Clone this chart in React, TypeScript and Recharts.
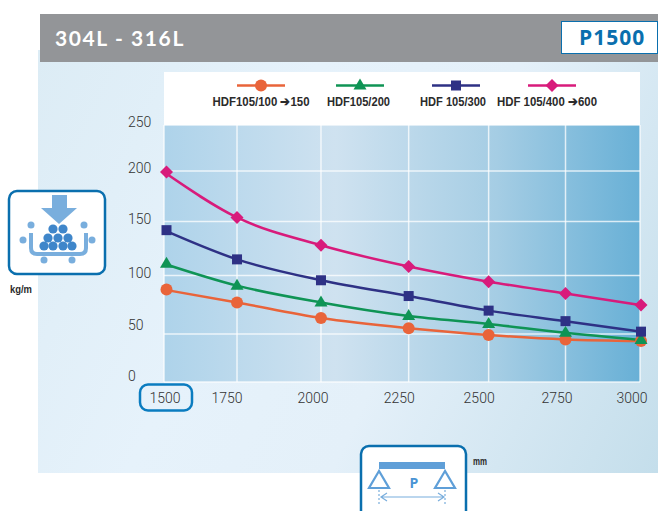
import React from 'react';
import { LineChart, Line, XAxis, YAxis, CartesianGrid, Legend } from 'recharts';

const spans = [1500, 1750, 2000, 2250, 2500, 2750, 3000];
const loadTicks = [0, 50, 100, 150, 200, 250];
const hdf100 = [88, 77, 63.7, 55, 49, 44.3, 42.7];
const hdf200 = [111, 91.4, 77, 65.4, 58.6, 51, 43.8];
const hdf300 = [142, 115, 96, 82.5, 70, 61, 52];
const hdf400 = [199, 154, 128, 108.4, 94.8, 84.7, 74.8];
const seriesNames = ['HDF105/100 ➔150', 'HDF105/200', 'HDF 105/300', 'HDF 105/400 ➔600'];

const rows = spans.map((span, i) => ({ span, a: hdf100[i], b: hdf200[i], c: hdf300[i], d: hdf400[i] }));

// The printed axes are not evenly spaced, so scales are piecewise linear.
function piecewise(stops: number[], fractions: number[], dom?: number[], rng?: number[]): any {
  let domain = dom || [stops[0], stops[stops.length - 1]];
  let range = rng || [0, 1];
  const s: any = (v: number) => {
    let i = 0;
    while (i < stops.length - 2 && v > stops[i + 1]) i++;
    const t = (v - stops[i]) / (stops[i + 1] - stops[i]);
    const f = fractions[i] + t * (fractions[i + 1] - fractions[i]);
    return range[0] + f * (range[1] - range[0]);
  };
  s.domain = (d?: number[]) => { if (d) { domain = d; return s; } return domain; };
  s.range = (r?: number[]) => { if (r) { range = r; return s; } return range; };
  s.copy = () => piecewise(stops, fractions, domain, range);
  s.ticks = () => stops;
  return s;
}
const xScale = piecewise(spans, [0, 0.1534, 0.3298, 0.514, 0.682, 0.8435, 1]);
const yScale = piecewise(loadTicks, [0, 0.1868, 0.414, 0.6245, 0.821, 1]);

const TICK_FONT = 'Roboto, sans-serif';
const NARROW = '"Liberation Sans", sans-serif';
const xLabelShift = [1, -10, -8, -9.5, -9.5, -8.5, -8];
const yLabelShift = [-6, -9, -2.5, -2.5, -3, -3];
const markerShift = [2.5, 0, 0, 0, 0, 0, 1];

const XTick = ({ x, y, payload, index }: any) => (
  <text x={x + xLabelShift[index]} y={y + 13} textAnchor="middle" fontFamily={TICK_FONT} fontWeight={300} fontSize={14} fill="#333">{payload.value}</text>
);
const YTick = ({ y, payload, index }: any) => (
  <text x={128} y={y + yLabelShift[index] + 5} textAnchor="start" fontFamily={TICK_FONT} fontWeight={300} fontSize={14} fill="#333">{payload.value}</text>
);

const ORANGE = '#e9643a', GREEN = '#0f9455', NAVY = '#2e3185', PINK = '#d81b7b';

const marker = (kind: string, c: string, cx: number, cy: number) => {
  if (kind === 'circle') return <circle cx={cx} cy={cy} r={6} fill={c} />;
  if (kind === 'square') return <rect x={cx - 5} y={cy - 5} width={10} height={10} fill={c} />;
  if (kind === 'triangle') return <path d={`M${cx} ${cy - 7}L${cx + 6.5} ${cy + 4}L${cx - 6.5} ${cy + 4}Z`} fill={c} />;
  return <path d={`M${cx} ${cy - 6.5}L${cx + 6.5} ${cy}L${cx} ${cy + 6.5}L${cx - 6.5} ${cy}Z`} fill={c} />;
};
const dot = (kind: string, c: string) => (p: any) => <g key={p.index}>{marker(kind, c, p.cx + markerShift[p.index], p.cy)}</g>;

const legendKinds = [
  { kind: 'circle', c: ORANGE, sx: 261, tx: 261, w: 97 },
  { kind: 'triangle', c: GREEN, sx: 360, tx: 358.5, w: 63 },
  { kind: 'square', c: NAVY, sx: 456, tx: 453, w: 66 },
  { kind: 'diamond', c: PINK, sx: 552, tx: 547, w: 100 },
];

const LegendBox = () => (
  <svg width={658} height={125} style={{ display: 'block' }}>
    <rect x={164} y={72} width={476} height={53} fill="#fff" />
    {legendKinds.map((l, i) => (
      <g key={i}>
        <line x1={l.sx - 24} x2={l.sx + 24} y1={85.5} y2={85.5} stroke={l.c} strokeWidth={2.5} />
        {marker(l.kind, l.c, l.sx, 85.5)}
        <text x={l.tx} y={106} textAnchor="middle" textLength={l.w} lengthAdjust="spacingAndGlyphs" fontFamily={NARROW} fontWeight={700} fontSize={12.5} fill="#2b2b2b">{seriesNames[i]}</text>
      </g>
    ))}
  </svg>
);

const LoadIcon = () => (
  <g>
    <rect x={9} y={191} width={96} height={83} rx={8} fill="#fff" stroke="#0a6fae" strokeWidth={2.5} />
    <path d="M52 195H67V208H77L59 224L41 208H52Z" fill="#79aedd" />
    <path d="M31 233V248Q31 254 37 254H80Q86 254 86 248V233" fill="none" stroke="#79aedd" strokeWidth={4} />
    {[[53, 229], [63, 229], [48, 238], [58, 238], [68, 238], [44, 246], [53, 246], [63, 246], [72, 246]].map(([x, y], i) => (
      <circle key={i} cx={x} cy={y} r={4.6} fill="#3f86ca" />
    ))}
    {[[31, 225], [84, 225], [23, 240], [92, 240], [44, 260], [72, 260]].map(([x, y], i) => (
      <circle key={i} cx={x} cy={y} r={3.5} fill="#79aedd" />
    ))}
  </g>
);

const SpanIcon = () => (
  <g>
    <rect x={361} y={446} width={105} height={80} rx={8} fill="#fff" stroke="#0a6fae" strokeWidth={2.5} />
    <rect x={379} y={462} width={66} height={7} fill="#5f9fd8" />
    <path d="M379 471L369 488H389Z" fill="none" stroke="#5f9fd8" strokeWidth={2.2} />
    <path d="M445 471L435 488H455Z" fill="none" stroke="#5f9fd8" strokeWidth={2.2} />
    <text x={414} y={488} textAnchor="middle" fontFamily="Open Sans, sans-serif" fontWeight={700} fontSize={14} fill="#4a94d4">P</text>
    <path d="M382 497H443M387 493L381 497L387 501M438 493L444 497L438 501" fill="none" stroke="#79aedd" strokeWidth={1.2} />
    <path d="M379 490V505M445 490V505" stroke="#79aedd" strokeWidth={1.2} strokeDasharray="2 2" />
  </g>
);

export default function App() {
  return (
    <div style={{ position: 'absolute', left: 0, top: 0, width: 658, height: 511, overflow: 'hidden', background: '#fff' }}>
      <div style={{ position: 'absolute', left: 38, top: 50, width: 620, height: 423, background: 'linear-gradient(115deg,#dcecf5 0%,#e6f2fb 35%,#e4f0f9 60%,#c4deeb 100%)' }} />
      <div style={{ position: 'absolute', left: 40, top: 14, width: 618, height: 48, background: '#939598' }} />
      <div style={{ position: 'absolute', left: 55, top: 24, color: '#fff', fontFamily: 'Lato, sans-serif', fontWeight: 700, fontSize: 21, letterSpacing: 1.6, lineHeight: '28px', whiteSpace: 'nowrap' }}>304L - 316L</div>
      <div style={{ position: 'absolute', left: 561, top: 21, width: 97, height: 33, boxSizing: 'border-box', background: '#fff', border: '1.5px solid #0a6fae', color: '#0a6fae', fontFamily: '"Open Sans", sans-serif', fontWeight: 700, fontSize: 21, lineHeight: '30px', paddingLeft: 17, letterSpacing: 1 }}>P1500</div>
      <div style={{ position: 'absolute', left: 0, top: 0 }}>
        <LineChart width={658} height={511} data={rows} margin={{ left: 124, top: 0, right: 18, bottom: 0 }}>
          <defs>
            <linearGradient id="plotFill" x1="0" y1="0" x2="1" y2="0">
              <stop offset="0" stopColor="#aed3ea" />
              <stop offset="0.36" stopColor="#cfe2f0" />
              <stop offset="0.7" stopColor="#a5cde4" />
              <stop offset="1" stopColor="#68b0d6" />
            </linearGradient>
          </defs>
          <CartesianGrid fill="url(#plotFill)" fillOpacity={1} stroke="#ffffff" strokeOpacity={0.75} strokeWidth={1.5} syncWithTicks />
          <XAxis dataKey="span" type="number" domain={[1500, 3000]} ticks={spans} scale={xScale} axisLine={false} tickLine={false} tick={XTick} interval={0} height={129} />
          <YAxis type="number" domain={[0, 250]} ticks={loadTicks} scale={yScale} axisLine={false} tickLine={false} tick={YTick} interval={0} width={40} />
          <Legend verticalAlign="top" align="left" wrapperStyle={{ position: 'absolute', left: 0, top: 0, width: 658, height: 125 }} content={() => <LegendBox />} />
          <Line dataKey="a" type="monotone" stroke={ORANGE} strokeWidth={2.5} dot={dot('circle', ORANGE)} isAnimationActive={false} />
          <Line dataKey="b" type="monotone" stroke={GREEN} strokeWidth={2.5} dot={dot('triangle', GREEN)} isAnimationActive={false} />
          <Line dataKey="c" type="monotone" stroke={NAVY} strokeWidth={2.5} dot={dot('square', NAVY)} isAnimationActive={false} />
          <Line dataKey="d" type="monotone" stroke={PINK} strokeWidth={2.5} dot={dot('diamond', PINK)} isAnimationActive={false} />
        </LineChart>
      </div>
      <svg width={658} height={511} style={{ position: 'absolute', left: 0, top: 0, pointerEvents: 'none' }}>
        <LoadIcon />
        <SpanIcon />
        <rect x={140} y={384.5} width={52} height={26} rx={8} fill="none" stroke="#0a7cc0" strokeWidth={2.5} />
        <text x={21} y={293} textAnchor="middle" textLength={22} lengthAdjust="spacingAndGlyphs" fontFamily={NARROW} fontWeight={700} fontSize={11} fill="#2b2b2b">kg/m</text>
        <text x={480} y={465} textAnchor="middle" textLength={14} lengthAdjust="spacingAndGlyphs" fontFamily={NARROW} fontWeight={700} fontSize={10.5} fill="#2b2b2b">mm</text>
      </svg>
    </div>
  );
}
